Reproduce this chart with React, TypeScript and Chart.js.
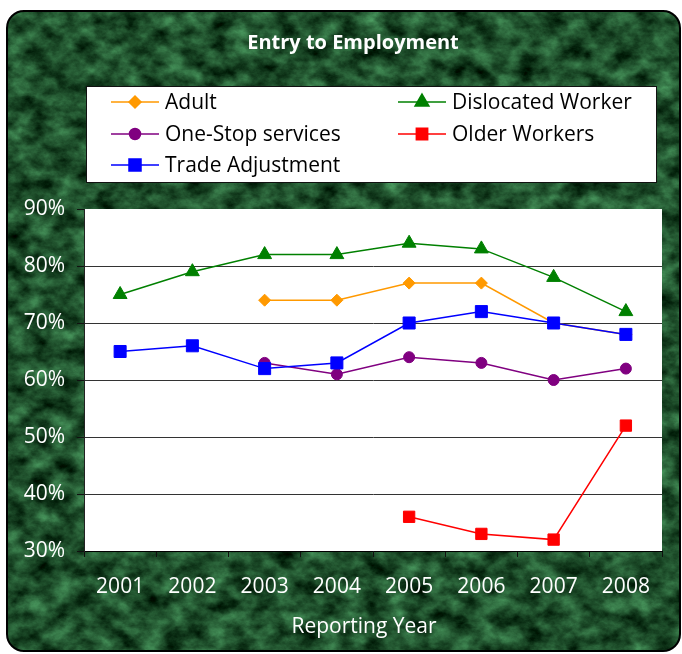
import React, { useEffect, useRef } from 'react';
import { Chart, registerables } from 'chart.js';
import { drawPoint } from 'chart.js/helpers';

Chart.register(...registerables);

const years = ['2001', '2002', '2003', '2004', '2005', '2006', '2007', '2008'];
const adult = [null, null, 74, 74, 77, 77, 70, 68];
const dislocatedWorker = [75, 79, 82, 82, 84, 83, 78, 72];
const oneStopServices = [null, null, 63, 61, 64, 63, 60, 62];
const olderWorkers = [null, null, null, null, 36, 33, 32, 52];
const tradeAdjustment = [65, 66, 62, 63, 70, 72, 70, 68];
const yMin = 30;
const yMax = 90;
const yStep = 10;

const titleText = 'Entry to Employment';
const xTitleText = 'Reporting Year';
const FONT = '"Open Sans", "DejaVu Sans", sans-serif';

const noiseSvg = `<svg xmlns='http://www.w3.org/2000/svg' width='675' height='642'><filter id='n' x='0' y='0' width='100%' height='100%' color-interpolation-filters='sRGB'><feTurbulence type='fractalNoise' baseFrequency='0.045 0.06' numOctaves='5' seed='7'/><feColorMatrix values='0.42 0 0 0 -0.09  0.72 0 0 0 -0.05  0.5 0 0 0 -0.08  0 0 0 0 1'/></filter><rect width='100%' height='100%' filter='url(#n)'/></svg>`;
const noiseUrl = `url("data:image/svg+xml;utf8,${encodeURIComponent(noiseSvg)}")`;

const decorPlugin = {
  id: 'decor',
  beforeDraw(chart: any) {
    const { ctx, chartArea: a } = chart;
    ctx.save();
    // plot area
    ctx.fillStyle = '#ffffff';
    ctx.fillRect(a.left, a.top, a.right - a.left, a.bottom - a.top);
    // title
    ctx.fillStyle = '#ffffff';
    ctx.font = `bold 20px ${FONT}`;
    ctx.textAlign = 'center';
    ctx.textBaseline = 'middle';
    ctx.fillText(titleText, 353, 43);
    // x axis title
    ctx.font = `21px ${FONT}`;
    ctx.fillText(xTitleText, 364, 627);
    // legend box
    ctx.fillStyle = '#ffffff';
    ctx.fillRect(86, 86, 571, 97);
    ctx.strokeStyle = '#111';
    ctx.lineWidth = 1;
    ctx.strokeRect(86.5, 86.5, 570, 96);
    const rows = [102, 134, 165];
    const cols = [111, 398];
    chart.data.datasets.forEach((ds: any, i: number) => {
      const lx = cols[i % 2];
      const y = rows[Math.floor(i / 2)];
      ctx.strokeStyle = ds.borderColor;
      ctx.fillStyle = ds.backgroundColor;
      ctx.lineWidth = 1.5;
      ctx.beginPath();
      ctx.moveTo(lx, y);
      ctx.lineTo(lx + 48, y);
      ctx.stroke();
      drawPoint(
        ctx,
        { pointStyle: ds.pointStyle, radius: ds.pointRadius, rotation: 0, borderWidth: 1 },
        lx + 24,
        y
      );
      ctx.fillStyle = '#000000';
      ctx.font = `21px ${FONT}`;
      ctx.textAlign = 'left';
      ctx.textBaseline = 'middle';
      ctx.fillText(ds.label, lx + 54, y + 1);
    });
    ctx.restore();
  },
};

function makeDataset(label: string, data: (number | null)[], color: string, style: string, radius: number, order: number) {
  return {
    label,
    data,
    borderColor: color,
    backgroundColor: color,
    pointBackgroundColor: color,
    pointBorderColor: color,
    pointStyle: style,
    pointRadius: radius,
    pointHoverRadius: radius,
    pointBorderWidth: 1,
    borderWidth: 1.5,
    tension: 0,
    order,
  };
}

export default function App() {
  const ref = useRef<HTMLCanvasElement>(null);
  useEffect(() => {
    if (!ref.current) return;
    const chart = new Chart(ref.current, {
      type: 'line',
      data: {
        labels: years,
        datasets: [
          makeDataset('Adult', adult, '#FF9900', 'rectRot', 6, 5),
          makeDataset('Dislocated Worker', dislocatedWorker, '#008000', 'triangle', 8, 4),
          makeDataset('One-Stop services', oneStopServices, '#800080', 'circle', 5.5, 3),
          makeDataset('Older Workers', olderWorkers, '#FF0000', 'rect', 8, 2),
          makeDataset('Trade Adjustment', tradeAdjustment, '#0000FF', 'rect', 8.5, 1),
        ] as any,
      },
      options: {
        responsive: false,
        animation: false,
        devicePixelRatio: 1,
        layout: { padding: { top: 209, right: 20, bottom: 0, left: 0 } },
        plugins: {
          legend: { display: false },
          title: { display: false },
          tooltip: { enabled: false },
        },
        scales: {
          x: {
            type: 'category',
            offset: true,
            grid: {
              offset: true,
              drawOnChartArea: false,
              tickLength: 6,
              tickColor: '#111',
            },
            border: { color: '#000', width: 1 },
            ticks: {
              color: '#ffffff',
              font: { family: FONT, size: 21 },
              padding: 17,
              maxRotation: 0,
              autoSkip: false,
            },
            afterFit: (s: any) => {
              s.height = 103;
            },
          },
          y: {
            min: yMin,
            max: yMax,
            grid: {
              color: (c: any) => (c.tick && c.tick.value === yMax ? 'rgba(0,0,0,0)' : '#333'),
              tickColor: '#111',
              tickLength: 7,
              lineWidth: 1,
            },
            border: { color: '#222', width: 1 },
            ticks: {
              stepSize: yStep,
              color: '#ffffff',
              font: { family: FONT, size: 21 },
              padding: 12,
              callback: (v: any) => `${v}%`,
            },
            afterFit: (s: any) => {
              s.width = 84;
            },
          },
        },
      } as any,
      plugins: [decorPlugin],
    });
    return () => chart.destroy();
  }, []);

  return (
    <div style={{ position: 'absolute', left: 0, top: 0, width: 682, height: 654, background: '#ffffff' }}>
      <div
        style={{
          position: 'absolute',
          left: 6,
          top: 10,
          width: 675,
          height: 642,
          boxSizing: 'border-box',
          border: '2px solid #000',
          borderRadius: 18,
          overflow: 'hidden',
          backgroundColor: '#1f4f2e',
          backgroundImage: noiseUrl,
          backgroundSize: '675px 642px',
        }}
      />
      <canvas ref={ref} width={682} height={654} style={{ position: 'absolute', left: 0, top: 0 }} />
    </div>
  );
}
